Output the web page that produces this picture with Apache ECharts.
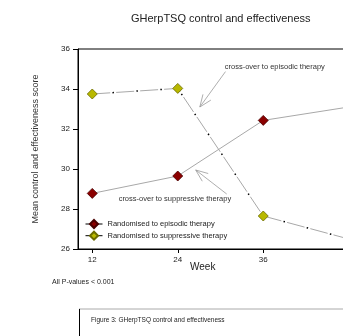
<!DOCTYPE html>
<html><head><meta charset="utf-8">
<script src="https://cdn.jsdelivr.net/npm/echarts@6/dist/echarts.min.js"></script>
<style>html,body{margin:0;padding:0;background:#fff}#c{width:343px;height:336px}</style>
</head><body><div id="c"></div>
<script>
const weeks = [12, 24, 36, 48];
const episodic = [28.78, 29.65, 32.43, 33.1];
const suppressive = [33.75, 34.03, 27.65, 26.5];
const xTicks = [12, 24, 36];
const seriesNames = ['Randomised to episodic therapy', 'Randomised to suppressive therapy'];
const annotations = [
  {text: 'cross-over to episodic therapy', at: [30.6, 35.1], from: [30.7, 34.87], to: [27.1, 33.1]},
  {text: 'cross-over to suppressive therapy', at: [23.6, 28.5], from: [30.87, 28.75], to: [26.52, 29.95]}
];
const FONT = '"Liberation Sans", Arial, sans-serif';
const chart = echarts.init(document.getElementById('c'), null, {renderer: 'canvas'});
const pts = arr => weeks.map((w, i) => [w, arr[i]]);
chart.setOption({
  animation: false,
  textStyle: {fontFamily: FONT},
  title: {text: 'GHerpTSQ control and effectiveness', left: 126, top: 8,
    textStyle: {fontSize: 11, fontWeight: 'normal', color: '#222', fontFamily: FONT}},
  grid: {left: 78, top: 49, width: 285, height: 200, show: true, borderColor: '#000', borderWidth: 1,
    containLabel: false, outerBoundsMode: 'none'},
  legend: {
    data: seriesNames, orient: 'vertical', left: 85, top: 219, padding: 0,
    itemWidth: 17, itemHeight: 10, itemGap: 1.7,
    lineStyle: {color: '#000', width: 1},
    textStyle: {fontSize: 7.5, color: '#222', fontFamily: FONT, padding: [0, 0, 0, 0]}
  },
  xAxis: {
    type: 'value', min: 10, max: 50,
    axisLine: {lineStyle: {color: '#000', width: 1}},
    axisTick: {show: true, length: 4, lineStyle: {color: '#000'}, customValues: xTicks},
    axisLabel: {customValues: xTicks, fontSize: 8, color: '#222', margin: 7, fontFamily: FONT},
    splitLine: {show: false}
  },
  yAxis: {
    type: 'value', min: 26, max: 36, interval: 2,
    name: 'Mean control and effectiveness score', nameLocation: 'middle', nameGap: 38,
    nameTextStyle: {fontSize: 9, color: '#333', fontFamily: FONT},
    axisLine: {show: true, lineStyle: {color: '#000', width: 1}},
    axisTick: {show: true, length: 5, lineStyle: {color: '#000'}},
    axisLabel: {fontSize: 8, color: '#222', margin: 8, fontFamily: FONT},
    splitLine: {show: false}
  },
  series: [
    {name: seriesNames[0], type: 'line', data: pts(episodic), z: 3,
      symbol: 'diamond', symbolSize: 10,
      lineStyle: {color: '#a8a8a8', width: 1},
      itemStyle: {color: '#8b0000', borderColor: '#4a0000', borderWidth: 0.8}},
    {name: seriesNames[1], type: 'line', data: pts(suppressive), z: 3,
      symbol: 'diamond', symbolSize: 10,
      lineStyle: {color: '#a8a8a8', width: 1, type: [18, 6]},
      itemStyle: {color: '#b8b800', borderColor: '#6b6b00', borderWidth: 0.8}},
    {name: 'dots', type: 'line', data: pts(suppressive), z: 2, symbol: 'none', silent: true,
      lineStyle: {color: '#000', width: 1.5, type: [1.5, 22.5], dashOffset: 3.75}}
  ],
  graphic: [
    {type: 'text', left: 204 - 14, top: 262, style: {text: 'Week', fontSize: 10, fill: '#222', font: '10px ' + FONT}},
    {type: 'text', left: 52, top: 279, style: {text: 'All P-values < 0.001', fill: '#222', font: '7px ' + FONT}},
    {type: 'line', shape: {x1: 79, y1: 309, x2: 343, y2: 309}, style: {stroke: '#aaa', lineWidth: 1}},
    {type: 'line', shape: {x1: 79.5, y1: 309, x2: 79.5, y2: 336}, style: {stroke: '#000', lineWidth: 1}},
    {type: 'text', left: 91, top: 317, style: {text: 'Figure 3: GHerpTSQ control and effectiveness', fill: '#222', font: '6.5px ' + FONT}}
  ]
});
const extra = [];
annotations.forEach((a, k) => {
  const t = chart.convertToPixel({gridIndex: 0}, a.at);
  const s = chart.convertToPixel({gridIndex: 0}, a.from);
  const e = chart.convertToPixel({gridIndex: 0}, a.to);
  extra.push({type: 'text', id: 'at' + k, x: t[0], y: t[1], style: {text: a.text, fill: '#333', font: '7.5px ' + FONT, textVerticalAlign: 'middle', textAlign: k === 1 ? 'center' : 'left'}});
  extra.push({type: 'line', id: 'al' + k, shape: {x1: s[0], y1: s[1], x2: e[0], y2: e[1]}, style: {stroke: '#999', lineWidth: 0.8}});
  const dx = s[0] - e[0], dy = s[1] - e[1], L = Math.hypot(dx, dy);
  const ux = dx / L, uy = dy / L, ang = 22 * Math.PI / 180, len = 13;
  [ang, -ang].forEach((g, j) => {
    const rx = ux * Math.cos(g) - uy * Math.sin(g), ry = ux * Math.sin(g) + uy * Math.cos(g);
    extra.push({type: 'line', id: 'ah' + k + j, shape: {x1: e[0], y1: e[1], x2: e[0] + rx * len, y2: e[1] + ry * len}, style: {stroke: '#999', lineWidth: 0.8}});
  });
});
chart.setOption({graphic: extra});
</script></body></html>
